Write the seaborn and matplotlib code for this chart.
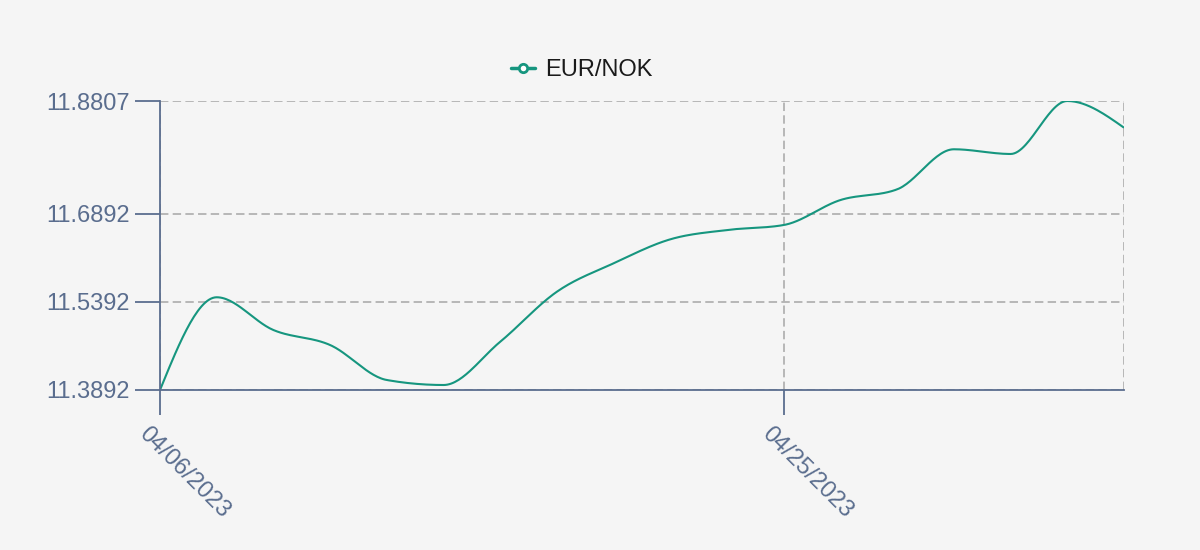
import numpy as np
import pandas as pd
import matplotlib
matplotlib.use('Agg')
import matplotlib.pyplot as plt
import seaborn as sns

# EUR/NOK daily rates (business days, Easter + May 1 skipped)
dates = ['04/06/2023', '04/11/2023', '04/12/2023', '04/13/2023', '04/14/2023',
         '04/17/2023', '04/18/2023', '04/19/2023', '04/20/2023', '04/21/2023',
         '04/24/2023', '04/25/2023', '04/26/2023', '04/27/2023', '04/28/2023',
         '05/02/2023', '05/03/2023', '05/04/2023']
rates = [11.3892, 11.5469, 11.4912, 11.4657, 11.4062, 11.3977, 11.4713, 11.5564,
         11.6047, 11.6455, 11.6613, 11.6698, 11.7123, 11.7305, 11.7986, 11.7906,
         11.8807, 11.8353]
tick_dates = ['04/06/2023', '04/25/2023']
series_name = 'EUR/NOK'

line_color = '#16967f'
axis_color = '#5a6d8e'
grid_color = '#a6a6a6'


def monotone_curve(y, n=30):
    # monotone cubic (like d3 curveMonotoneX), unit spacing
    y = np.asarray(y, dtype=float)
    s = np.diff(y)
    m = np.zeros(len(y))
    for i in range(1, len(y) - 1):
        s0, s1 = s[i - 1], s[i]
        p = (s0 + s1) / 2
        m[i] = (np.sign(s0) + np.sign(s1)) * min(abs(s0), abs(s1), 0.5 * abs(p))
    m[0] = (3 * s[0] - m[1]) / 2
    m[-1] = (3 * s[-1] - m[-2]) / 2
    xs, ys = [], []
    for i in range(len(y) - 1):
        t = np.linspace(0, 1, n, endpoint=False)
        h00 = 2 * t**3 - 3 * t**2 + 1
        h10 = t**3 - 2 * t**2 + t
        h01 = -2 * t**3 + 3 * t**2
        h11 = t**3 - t**2
        xs.append(i + t)
        ys.append(h00 * y[i] + h10 * m[i] + h01 * y[i + 1] + h11 * m[i + 1])
    xs.append([len(y) - 1])
    ys.append([y[-1]])
    return np.concatenate(xs), np.concatenate(ys)


sns.set_style('white')
plt.rcParams['font.family'] = ['Liberation Sans', 'DejaVu Sans']

fig = plt.figure(figsize=(12, 5.5), dpi=100, facecolor='#f5f5f5')
ax = fig.add_axes([160 / 1200, 1 - 390 / 550, (1124 - 160) / 1200, (390 - 101) / 550])
ax.set_facecolor('#f5f5f5')

cx, cy = monotone_curve(rates)
curve = pd.DataFrame({'x': cx, 'y': cy})
sns.lineplot(data=curve, x='x', y='y', ax=ax, color=line_color, linewidth=1.5,
             estimator=None, sort=False, legend=False)

ymin, ymax = min(rates), max(rates)
ax.set_xlim(0, len(rates) - 1)
ax.set_ylim(ymin, ymax)
yt = [ymin, ymin + 0.15, ymin + 0.30, ymax]
ax.set_yticks(yt)
ax.set_yticklabels([f'{v:.4f}' for v in yt])
xt = [dates.index(d) for d in tick_dates]
ax.set_xticks(xt)
ax.set_xticklabels([])
# rotated date labels hanging below the ticks
for pos, lab in zip(xt, tick_dates):
    ax.annotate(lab, xy=(pos, 0), xycoords=('data', 'axes fraction'),
                xytext=(-13, -29), textcoords='offset points',
                rotation=-45, rotation_mode='anchor', ha='left', va='center',
                fontsize=17, color=axis_color, annotation_clip=False)

dash = (0, (5.5, 2.8))
ax.grid(True, color=grid_color, linestyle=dash, linewidth=1.1)
ax.axvline(len(rates) - 1, color=grid_color, linestyle=dash, linewidth=1.1)
for side in ['top', 'right']:
    ax.spines[side].set_visible(False)
for side in ['left', 'bottom']:
    ax.spines[side].set_color(axis_color)
    ax.spines[side].set_linewidth(1.3)

ax.tick_params(axis='both', colors=axis_color, labelsize=17, length=18,
               width=1.3, direction='out', bottom=True, left=True)
ax.tick_params(axis='y', pad=3.5)
ax.set_xlabel('')
ax.set_ylabel('')

handle = plt.Line2D([], [], color=line_color, linewidth=2.5, marker='o',
                    markersize=6, markerfacecolor='white', markeredgewidth=2)
fig.legend([handle], [series_name], loc='center', bbox_to_anchor=(0.485, 0.873),
           frameon=False, fontsize=17, handlelength=1.0, handletextpad=0.45,
           labelcolor='#1a1a1a')

fig.savefig('out.png', dpi=100, facecolor=fig.get_facecolor())
